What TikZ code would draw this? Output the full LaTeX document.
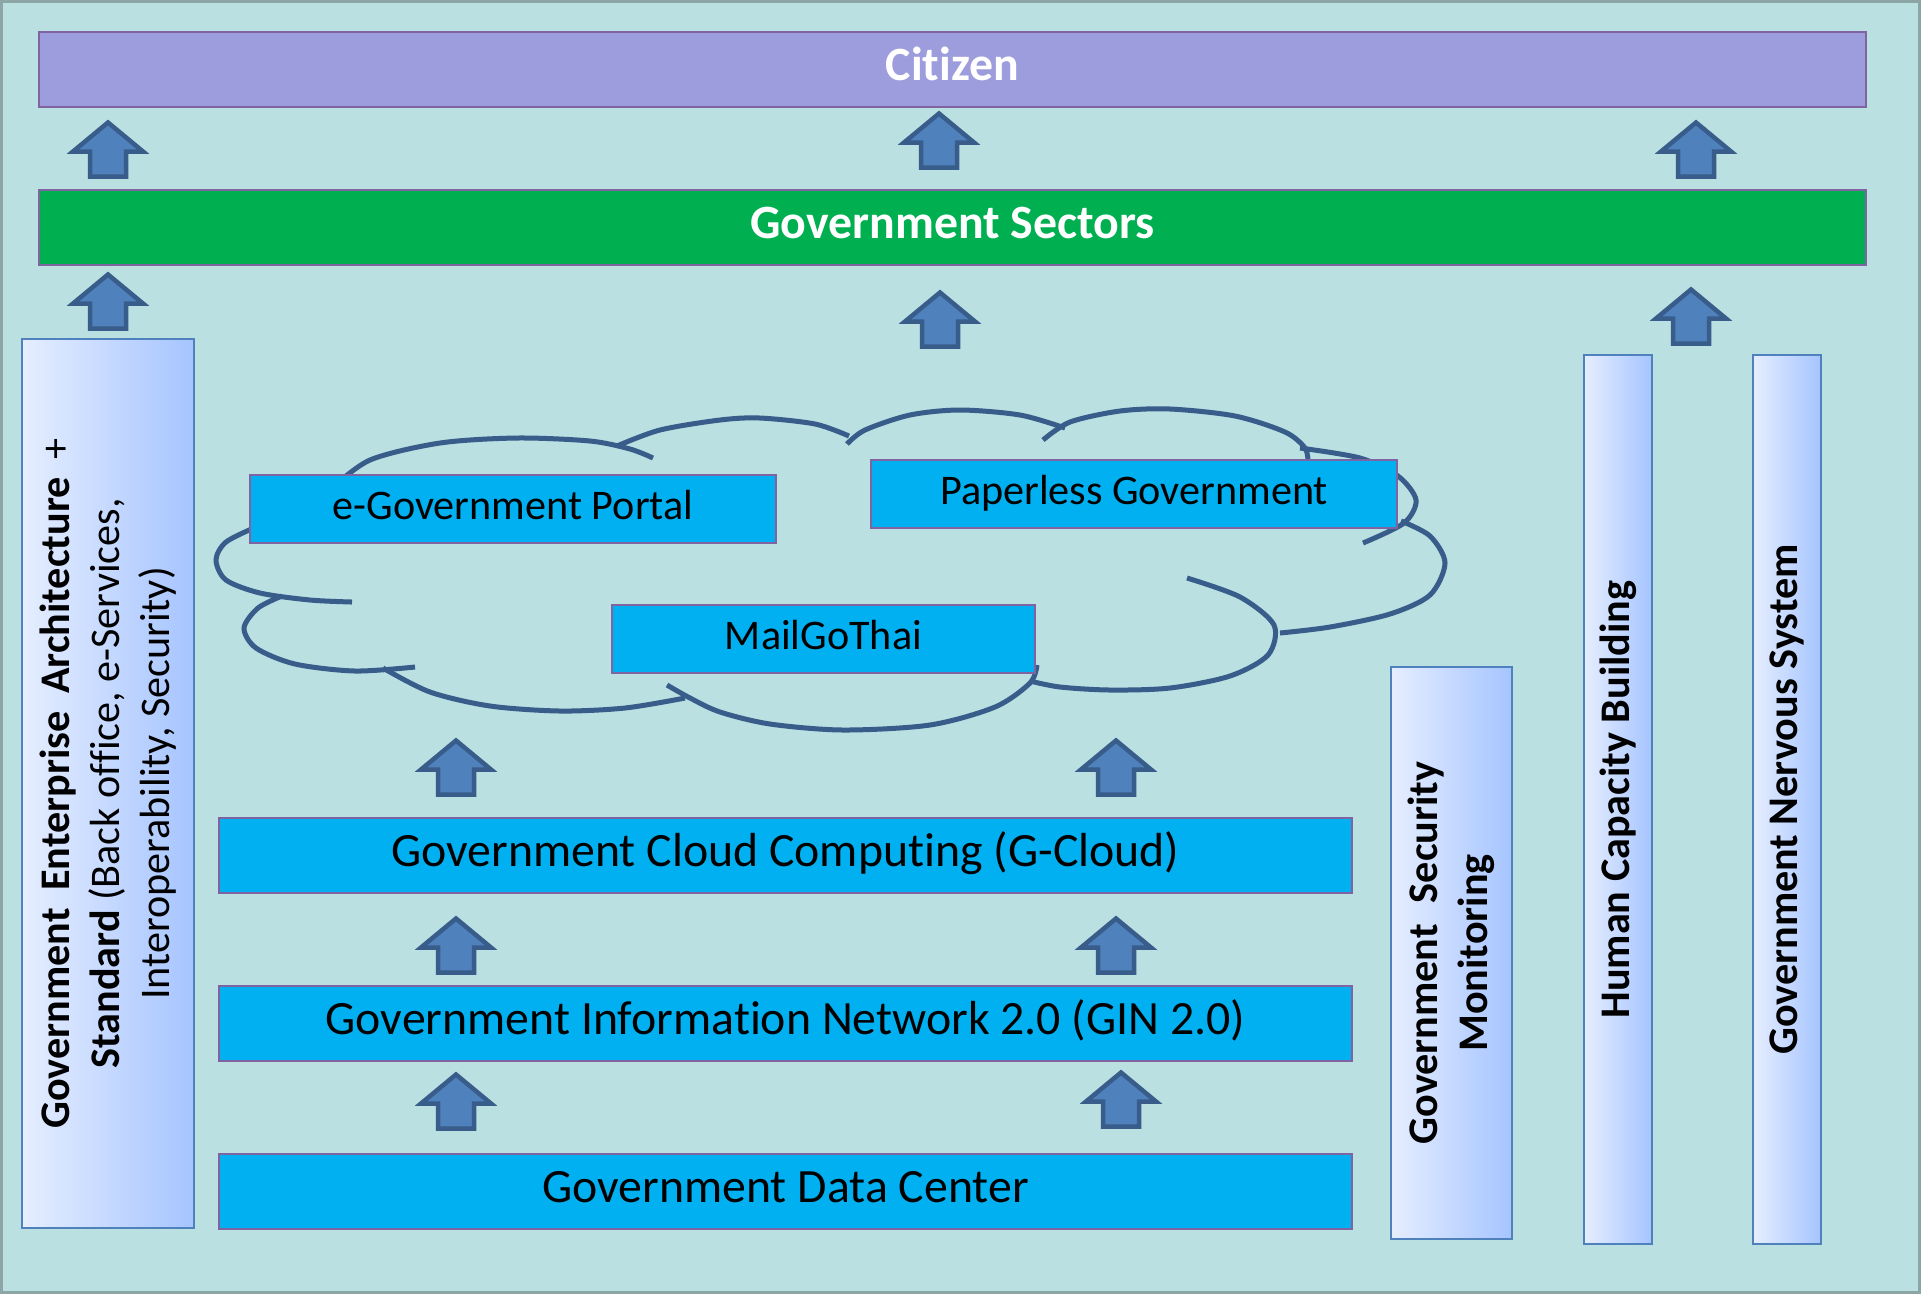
\documentclass[tikz,border=0pt]{standalone}
\usepackage{fontspec}
\setmainfont{Carlito}[Ligatures=NoCommon]
\usetikzlibrary{positioning}
\definecolor{bgteal}{RGB}{186,224,226}
\definecolor{framegray}{RGB}{140,166,166}
\definecolor{citizenfill}{RGB}{157,157,222}
\definecolor{sectorfill}{RGB}{0,176,80}
\definecolor{boxline}{RGB}{128,100,162}
\definecolor{cyanfill}{RGB}{0,176,240}
\definecolor{pillarlight}{RGB}{230,238,255}
\definecolor{pillardark}{RGB}{165,196,255}
\definecolor{pillarline}{RGB}{79,129,189}
\definecolor{arrowfill}{RGB}{79,129,189}
\definecolor{arrowline}{RGB}{56,93,138}
\newcommand{\layerfont}{\fontsize{13.6}{16}\selectfont}
\newcommand{\labelfont}{\fontsize{12}{14.2}\selectfont}
\begin{document}
\begin{tikzpicture}[x=0.1mm, y=-0.1mm,
  layer/.style = {draw=boxline, line width=0.2mm, inner sep=0pt, minimum height=7.5mm, text height=0.75em, text depth=0.15em},
  top/.style = {layer, minimum width=182.7mm, text=white, font=\layerfont\bfseries},
  infra/.style = {layer, fill=cyanfill, minimum width=113.3mm, font=\layerfont},
  app/.style = {layer, fill=cyanfill, minimum height=6.8mm, font=\labelfont},
  pillar/.style = {draw=pillarline, line width=0.25mm, rotate=90, left color=pillarlight, right color=pillardark, inner sep=0pt, font=\labelfont\bfseries, align=center},
  cloudline/.style = {draw=arrowline, line width=0.5mm},
  uparrow/.pic = {\draw[fill=arrowfill, draw=arrowline, line width=0.45mm] (-18,0) -- (-18,-25) -- (-35,-25) -- (0,-54) -- (35,-25) -- (18,-25) -- (18,0) -- cycle;}]
\useasboundingbox (0,0) rectangle (1921,1294);
\fill[bgteal] (0,0) rectangle (1921,1294);
\draw[framegray, line width=0.3mm] (1.5,1.5) rectangle (1919.5,1292.5);

\node[top, fill=citizenfill] (citizen) at (952.5,69.5) {Citizen};
\node[top, fill=sectorfill, below=8.1mm of citizen] (sectors) {Government Sectors};

\draw[cloudline] plot[smooth] coordinates {(330,490) (370,460) (440,443) (517,438) (590,441) (630,449) (653,458)};
\draw[cloudline] plot[smooth] coordinates {(617,446) (660,430) (720,420) (760,418) (815,424) (849,436)};
\draw[cloudline] plot[smooth] coordinates {(847,444) (865,430) (910,415) (960,410) (1020,415) (1065,428)};
\draw[cloudline] plot[smooth] coordinates {(1043,440) (1070,422) (1120,411) (1170,409) (1235,416) (1285,432) (1305,448) (1308,462)};
\draw[cloudline] plot[smooth] coordinates {(1300,448) (1360,458) (1398,476) (1416,500) (1404,523) (1363,543)};
\draw[cloudline] plot[smooth] coordinates {(1401,521) (1430,536) (1445,563) (1430,595) (1390,614) (1330,627) (1280,633)};
\draw[cloudline] plot[smooth] coordinates {(1187,578) (1240,597) (1274,625) (1268,655) (1230,676) (1170,688) (1110,690) (1060,687) (1030,681)};
\draw[cloudline] plot[smooth] coordinates {(1037,665) (1030,683) (995,707) (930,725) (843,730) (770,724) (720,712) (690,698) (667,685)};
\draw[cloudline] plot[smooth] coordinates {(685,698) (625,708) (560,711) (490,706) (430,692) (383,668)};
\draw[cloudline] plot[smooth] coordinates {(282,596) (258,608) (244,628) (256,648) (295,664) (355,671) (415,667)};
\draw[cloudline] plot[smooth] coordinates {(256,527) (226,542) (216,560) (226,580) (260,593) (310,600) (352,602)};

\node[app, minimum width=52.6mm] (portal) at (513,509) {e-Government Portal};
\node[app, minimum width=52.6mm] (paperless) at (1134,493.5) {Paperless Government};
\node[app, minimum width=42.3mm] (mail) at (823.5,639) {MailGoThai};

\node[infra] (gcloud) at (785.5,855.5) {Government Cloud Computing (G-Cloud)};
\node[infra, below=9.1mm of gcloud] (gin) {Government Information Network 2.0 (GIN 2.0)};
\node[infra, below=9.1mm of gin] (gdc) {Government Data Center};

\node[pillar, minimum width=88.9mm, minimum height=17.2mm] (gea) at (108,783.5)
  {\makebox[69mm][s]{Government Enterprise Architecture {\mdseries +}}\\
   Standard {\mdseries (Back office, e-Services,}\\
   {\mdseries Interoperability, Security)}};
\node[pillar, minimum width=57.2mm, minimum height=12.1mm] (gsm) at (1451.5,953)
  {Government\enspace Security\\ Monitoring};
\node[pillar, minimum width=88.9mm, minimum height=6.8mm] (hcb) at (1618,799.5) {Human Capacity Building};
\node[pillar, minimum width=88.9mm, minimum height=6.8mm] (gns) at (1787,799.5) {Government Nervous System};

\pic (upA1) at (108,176.5) {uparrow};
\pic (upA2) at (939,167.5) {uparrow};
\pic (upA3) at (1696,176.5) {uparrow};
\pic (upB1) at (108,328.5) {uparrow};
\pic (upB2) at (940,346.5) {uparrow};
\pic (upB3) at (1691,343.5) {uparrow};
\pic (upC1) at (456,794.5) {uparrow};
\pic (upC2) at (1116,794.5) {uparrow};
\pic (upD1) at (456,972.5) {uparrow};
\pic (upD2) at (1116,972.5) {uparrow};
\pic (upE1) at (456,1128.5) {uparrow};
\pic (upE2) at (1121,1126.5) {uparrow};
\end{tikzpicture}
\end{document}
